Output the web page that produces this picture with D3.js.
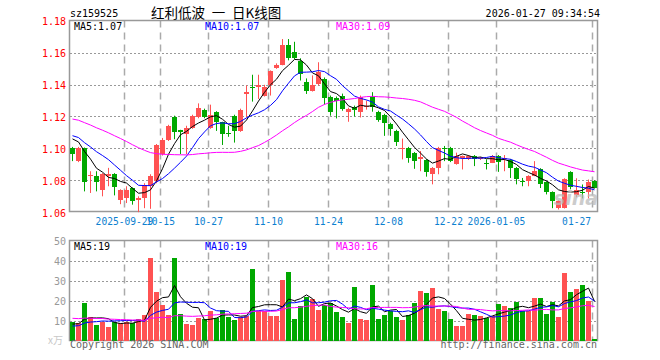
<!DOCTYPE html>
<html>
<head>
<meta charset="utf-8">
<script src="https://cdn.jsdelivr.net/npm/d3@7"></script>
<style>
body { margin: 0; background: #fff; }
text { font-family: "DejaVu Sans Mono", monospace; font-size: 10px; }
</style>
</head>
<body>
<script>
// trading days shown in the window
const dates = [
  "2025-09-16","2025-09-17","2025-09-18","2025-09-19","2025-09-22","2025-09-23","2025-09-24","2025-09-25","2025-09-26","2025-09-29","2025-09-30",
  "2025-10-09","2025-10-10","2025-10-13","2025-10-14","2025-10-15","2025-10-16","2025-10-17","2025-10-20","2025-10-21","2025-10-22","2025-10-23","2025-10-24","2025-10-27","2025-10-28","2025-10-29","2025-10-30","2025-10-31",
  "2025-11-03","2025-11-04","2025-11-05","2025-11-06","2025-11-07","2025-11-10","2025-11-11","2025-11-12","2025-11-13","2025-11-14","2025-11-17","2025-11-18","2025-11-19","2025-11-20","2025-11-21","2025-11-24","2025-11-25","2025-11-26","2025-11-27","2025-11-28",
  "2025-12-01","2025-12-02","2025-12-03","2025-12-04","2025-12-05","2025-12-08","2025-12-09","2025-12-10","2025-12-11","2025-12-12","2025-12-15","2025-12-16","2025-12-17","2025-12-18","2025-12-19","2025-12-22","2025-12-23","2025-12-24","2025-12-25","2025-12-26","2025-12-29","2025-12-30","2025-12-31",
  "2026-01-05","2026-01-06","2026-01-07","2026-01-08","2026-01-09","2026-01-12","2026-01-13","2026-01-14","2026-01-15","2026-01-16","2026-01-19","2026-01-20","2026-01-21","2026-01-22","2026-01-23","2026-01-26","2026-01-27"
];

const open = [1.1005,1.0921,1.1003,1.0827,1.0827,1.0741,1.0827,1.0841,1.0677,1.069,
  1.0753,1.068,1.069,1.0764,1.0795,1.0965,1.1054,1.1194,1.1113,1.109,
  1.1127,1.1194,1.1243,1.1127,1.1226,1.1163,1.1095,1.1205,1.111,1.1343,
  1.1383,1.1383,1.1331,1.1398,1.1503,1.1524,1.1649,1.1602,1.1548,1.1415,
  1.1362,1.1403,1.1435,1.132,1.1314,1.1331,1.1226,1.1262,1.1226,1.1262,
  1.132,1.123,1.1209,1.1156,1.111,1.0995,1.1005,1.0974,1.0936,1.0929,
  1.0838,1.0879,1.1003,1.1005,1.0904,1.0938,1.0932,1.0953,1.0932,1.0909,
  1.0911,1.0953,1.0934,1.0928,1.0879,1.0798,1.0798,1.083,1.0874,1.0789,
  1.0726,1.0627,1.0627,1.0852,1.0707,1.0726,1.0726,1.08];

const high = [1.101,1.101,1.1006,1.0858,1.0858,1.0846,1.0879,1.0846,1.0745,1.0764,
  1.0757,1.0701,1.0783,1.0839,1.1028,1.1066,1.1148,1.1205,1.1117,1.1142,
  1.1211,1.1282,1.1249,1.1274,1.1233,1.1167,1.1142,1.1211,1.1249,1.1394,
  1.1461,1.1461,1.1398,1.1488,1.1532,1.1684,1.1684,1.1667,1.1564,1.1438,
  1.1457,1.1539,1.1444,1.1331,1.1325,1.1343,1.1255,1.1268,1.1331,1.1299,
  1.1352,1.1236,1.1217,1.1161,1.1117,1.1062,1.101,1.0978,1.0984,1.0934,
  1.0884,1.101,1.1016,1.101,1.0974,1.0956,1.0959,1.0959,1.0947,1.0932,
  1.0959,1.0959,1.0959,1.0934,1.0884,1.0816,1.0833,1.0921,1.0877,1.0795,
  1.0732,1.0676,1.0814,1.0858,1.0814,1.0775,1.0806,1.0802];

const low = [1.0921,1.0915,1.0732,1.0722,1.0732,1.0701,1.0764,1.0707,1.0652,1.0659,
  1.0649,1.0602,1.0627,1.0623,1.0783,1.0956,1.1047,1.1058,1.0965,1.0965,
  1.1123,1.1189,1.1189,1.1123,1.111,1.1022,1.1073,1.1037,1.1104,1.1194,
  1.1293,1.131,1.1325,1.1331,1.1498,1.152,1.1551,1.1558,1.1425,1.1341,
  1.1356,1.1394,1.1274,1.1205,1.1188,1.1236,1.1167,1.12,1.1194,1.1243,
  1.123,1.1167,1.1079,1.1079,1.1016,1.0932,1.0911,1.0873,1.0858,1.0824,
  1.0776,1.0839,1.0921,1.0915,1.0899,1.0869,1.0928,1.089,1.0928,1.0869,
  1.0909,1.0854,1.0858,1.0816,1.0776,1.0764,1.0764,1.0827,1.0753,1.0713,
  1.0627,1.0619,1.0625,1.0745,1.0695,1.0688,1.0688,1.0751];

const close = [1.0963,1.1005,1.0791,1.0833,1.0791,1.0841,1.0841,1.0757,1.0741,1.0741,
  1.0674,1.069,1.0775,1.0827,1.1022,1.1054,1.1142,1.1106,1.1106,1.1127,
  1.1205,1.1253,1.1194,1.1211,1.1163,1.1093,1.109,1.111,1.1243,1.1352,
  1.1378,1.1398,1.1383,1.1482,1.1524,1.1646,1.1566,1.1566,1.1468,1.1362,
  1.14,1.1476,1.1315,1.1226,1.1299,1.1247,1.1244,1.1241,1.1321,1.1268,
  1.126,1.118,1.1159,1.1125,1.1041,1.1005,1.0942,1.0921,1.0947,1.0855,
  1.0879,1.1005,1.0999,1.0921,1.0953,1.0953,1.0953,1.0932,1.0942,1.0902,
  1.0953,1.0917,1.0943,1.0879,1.0808,1.0792,1.083,1.0861,1.0776,1.0726,
  1.0674,1.0672,1.0808,1.0757,1.0739,1.072,1.0789,1.0754];

// volume in 10k (万)
const volume = [9.2,9.0,18.7,11.6,7.9,9.4,6.9,9.2,9.0,9.2,
  9.0,10.9,12.7,41.2,24.4,17.9,12.7,41.2,13.2,8.2,
  7.9,11.4,10.7,14.9,11.1,15.4,11.9,10.4,11.9,12.4,
  35.7,14.6,14.6,12.2,12.2,30.2,34.3,10.7,17.2,21.7,
  20.6,15.2,17.6,18.6,14.2,11.7,8.7,26.7,10.7,10.2,
  27.7,10.7,12.7,14.7,11.7,10.2,13.0,18.7,24.7,23.7,
  26.2,15.7,14.7,10.7,7.2,7.2,13.2,12.7,12.2,11.2,
  12.2,18.2,17.2,16.2,19.2,14.7,14.7,21.2,21.2,13.2,
  19.2,11.7,33.7,24.2,25.7,27.7,19.7,0.7];

// history before the window, estimated so the moving averages start where the reference's do
const preCloses = [1.122,1.125,1.128,1.131,1.129,1.133,1.130,1.127,1.130,1.128,1.125,1.126,1.126,
  1.121,1.118,1.117,1.115,1.113,1.114,1.114,
  1.112,1.111,1.110,1.109,1.108,
  1.110,1.109,1.107,1.1077];
const preVolumes = [14,11,13,12.5,10,15,12,13.3,11,14,12,
  16,12,14.5,11,18,13,12.7,15,11,
  7,5.5,6.5,6,6,
  8,7.5,8.3,8];

const priceTicks = [1.06,1.08,1.10,1.12,1.14,1.16,1.18];
const volTicks = [10,20,30,40,50];
const tickDates = ["2025-09-29","2025-10-15","2025-10-27","2025-11-10","2025-11-24","2025-12-08","2025-12-22","2026-01-05","2026-01-27"];
const tickLabels = ["2025-09-29","10-15","10-27","11-10","11-24","12-08","12-22","2026-01-05","01-27"];
const maPeriods = [5, 10, 30];
const maColors = ["#000", "#0000ff", "#ff00ff"];
const maLabels = ["MA5:1.07", "MA10:1.07", "MA30:1.09"];
const volMaLabels = ["MA5:19", "MA10:19", "MA30:16"];

const W = 660, H = 360;
const left = 70, right = 598;
const pTop = 20.5, pBot = 211.5, vTop = 240.5, vBot = 340.5;
const upColor = "#ff5252", downColor = "#00a800";
const gridColor = "#aaa";

const svg = d3.select("body").append("svg").attr("width", W).attr("height", H);
svg.append("rect").attr("width", W).attr("height", H).attr("fill", "#fff");

const x = d3.scaleBand().domain(dates)
  .range([left - 0.5, right - 0.5])
  .paddingInner(1 / 6).paddingOuter(1 / 12);
const cx = d => x(d) + x.bandwidth() / 2;

const y = d3.scaleLinear().domain([1.06, 1.18]).range([212.5, 20.5]);
const yv = d3.scaleLinear().domain([0, 50]).range([vBot, vTop]);

const rows = dates.map((d, i) => ({
  date: d, o: open[i], h: high[i], l: low[i], c: close[i], v: volume[i],
  up: close[i] >= open[i]
}));

function movingAvg(pre, vals, n) {
  const all = pre.concat(vals);
  return vals.map((_, i) => d3.mean(all.slice(pre.length + i - n + 1, pre.length + i + 1)));
}

// ---- titles
svg.append("text").attr("x", 70).attr("y", 17).text("sz159525");
svg.append("text").attr("x", 151).attr("y", 18)
  .style("font-family", '"Noto Sans CJK SC", sans-serif').style("font-size", "13.5px")
  .style("white-space", "pre")
  .text("红利低波\u2002一\u2002日K线图");
svg.append("text").attr("x", 600).attr("y", 17).attr("text-anchor", "end")
  .text("2026-01-27 09:34:54");

// ---- grids
function panelGrid(top, bot, hVals, yScale) {
  svg.append("g").selectAll("line").data(hVals).join("line")
    .attr("x1", left).attr("x2", right)
    .attr("y1", d => Math.round(yScale(d)) + 0.5).attr("y2", d => Math.round(yScale(d)) + 0.5)
    .attr("stroke", "#999").attr("stroke-dasharray", "2,2");
  svg.append("g").selectAll("line").data(tickDates).join("line")
    .attr("x1", d => x(d) + 0.5).attr("x2", d => x(d) + 0.5)
    .attr("y1", top).attr("y2", bot)
    .attr("stroke", gridColor).attr("stroke-width", 1.5).attr("stroke-dasharray", "7,5");
  svg.append("rect").attr("x", left - 0.5).attr("y", top)
    .attr("width", right - left).attr("height", bot - top)
    .attr("fill", "none").attr("stroke", "#999").attr("stroke-width", 1.5);
}
panelGrid(pTop, pBot, priceTicks.slice(1, -1), y);
panelGrid(vTop, vBot, volTicks.slice(0, -1), yv);

// ---- axis labels
svg.append("g").selectAll("text").data(priceTicks).join("text")
  .attr("x", 66).attr("y", d => y(d) + 4).attr("text-anchor", "end")
  .attr("fill", "#f00").text(d => d3.format(".2f")(d));
svg.append("g").selectAll("text").data(volTicks).join("text")
  .attr("x", 66).attr("y", d => yv(d) + 4).attr("text-anchor", "end")
  .attr("fill", "#999").text(d => d);
svg.append("text").attr("x", 48).attr("y", 344).attr("fill", "#c8c8c8")
  .style("font-family", '"Noto Sans CJK SC", sans-serif').text("x万");

const dateText = svg.append("g").selectAll("text").data(tickDates).join("text")
  .attr("y", 225).attr("fill", "#0c80d0").style("font-size", "9.6px")
  .attr("text-anchor", "middle")
  .text((d, i) => tickLabels[i])
  .attr("x", d => x(d) + 0.5);
dateText.each(function() {
  const w = this.getComputedTextLength();
  const cxv = +this.getAttribute("x");
  if (cxv + w / 2 > right - 7) this.setAttribute("x", right - 7 - w / 2);
});

// ---- candles
const candle = svg.append("g").selectAll("g").data(rows).join("g");
candle.append("line")
  .attr("x1", d => cx(d.date)).attr("x2", d => cx(d.date))
  .attr("y1", d => y(d.h)).attr("y2", d => y(d.l))
  .attr("stroke", d => d.up ? upColor : downColor);
candle.append("rect")
  .attr("x", d => x(d.date)).attr("width", x.bandwidth())
  .attr("y", d => y(Math.max(d.o, d.c)))
  .attr("height", d => Math.max(1, Math.abs(y(d.o) - y(d.c))))
  .attr("fill", d => d.up ? upColor : downColor)
  .attr("shape-rendering", "crispEdges");

// ---- volume bars
svg.append("g").selectAll("rect").data(rows).join("rect")
  .attr("x", d => x(d.date)).attr("width", x.bandwidth())
  .attr("y", d => yv(d.v)).attr("height", d => vBot - yv(d.v))
  .attr("fill", d => d.up ? upColor : downColor)
  .attr("shape-rendering", "crispEdges");

// ---- moving averages
maPeriods.forEach((n, k) => {
  const pm = movingAvg(preCloses, close, n);
  const vm = movingAvg(preVolumes, volume, n);
  svg.append("path").datum(pm)
    .attr("d", d3.line().x((d, i) => cx(dates[i])).y(d => y(d)))
    .attr("fill", "none").attr("stroke", maColors[k]).attr("stroke-width", 1);
  svg.append("path").datum(vm)
    .attr("d", d3.line().x((d, i) => cx(dates[i])).y(d => yv(d)))
    .attr("fill", "none").attr("stroke", maColors[k]).attr("stroke-width", 1);
});

// ---- MA legends
const legendX = [74, 205, 336];
maLabels.forEach((t, k) => {
  svg.append("text").attr("x", legendX[k]).attr("y", 30).attr("fill", maColors[k]).text(t);
  svg.append("text").attr("x", legendX[k]).attr("y", 250).attr("fill", maColors[k]).text(volMaLabels[k]);
});

// ---- watermark + footer
svg.append("text").attr("x", 598).attr("y", 205).attr("text-anchor", "end")
  .style("font-family", '"DejaVu Sans", sans-serif').style("font-size", "19px")
  .style("font-style", "italic").style("font-weight", "bold")
  .attr("fill", "#bbb").attr("opacity", 0.75).text("sina");
svg.append("text").attr("x", 70).attr("y", 348).attr("fill", "#666").text("Copyright 2026 SINA.COM");
svg.append("text").attr("x", 597).attr("y", 348).attr("text-anchor", "end")
  .attr("fill", "#666").text("http://finance.sina.com.cn");
</script>
</body>
</html>
